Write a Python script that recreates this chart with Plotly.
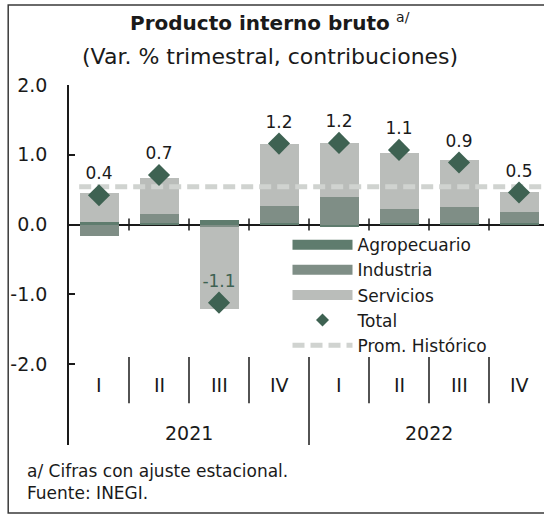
import plotly.graph_objects as go

# ---- data ----
quarters = ["I", "II", "III", "IV", "I", "II", "III", "IV"]
years = ["2021", "2022"]
agropecuario = [0.04, 0.02, 0.06, 0.02, -0.04, 0.02, 0.02, 0.02]
industria = [-0.16, 0.13, -0.03, 0.25, 0.39, 0.20, 0.23, 0.16]
servicios = [0.41, 0.52, -1.18, 0.89, 0.78, 0.81, 0.68, 0.28]
total = [0.42, 0.71, -1.12, 1.16, 1.17, 1.07, 0.89, 0.46]
prom_historico = 0.54
y_ticks = [-2, -1, 0, 1, 2]
y_tick_labels = ["-2.0", "-1.0", "0.0", "1.0", "2.0"]

# ---- styles ----
C_AGRO = "#5f7c6e"
C_IND = "#7f8e86"
C_SERV = "#babdba"
C_TOTAL = "#3e6252"
C_PROM = "#d0d3d0"
FONT = "DejaVu Sans"
TXT = "#1a1a1a"

xs = list(range(len(quarters)))
fig = go.Figure()

series = [("Agropecuario", agropecuario, C_AGRO),
          ("Industria", industria, C_IND),
          ("Servicios", servicios, C_SERV)]
for name, vals, col in series:
    fig.add_trace(go.Bar(x=xs, y=vals, name=name, marker=dict(color=col, line=dict(width=0)),
                         width=0.65, showlegend=False, legendgroup=name))

# legend swatches (wide rectangles as in the original)
for rank, (name, _, col) in enumerate(series, start=1):
    fig.add_trace(go.Scatter(x=[None], y=[None], mode="lines", name=name, legendgroup=name,
                             legendrank=rank, line=dict(color=col, width=10)))

fig.add_trace(go.Scatter(x=[xs[0] - 0.33, xs[-1] + 0.6], y=[prom_historico] * 2, mode="lines",
                         name="Prom. Histórico", legendrank=5,
                         line=dict(color=C_PROM, width=5, dash="12px,6px")))

labels = [f"{v:.1f}" for v in total]
label_colors = [C_TOTAL if v < 0 else TXT for v in total]
fig.add_trace(go.Scatter(x=xs, y=total, mode="markers+text", name="Total", legendgroup="Total",
                         showlegend=False,
                         marker=dict(symbol="diamond", size=17, color=C_TOTAL),
                         text=labels, textposition="top center",
                         textfont=dict(size=17, color=label_colors, family=FONT)))
fig.add_trace(go.Scatter(x=[None], y=[None], mode="markers", name="Total", legendgroup="Total",
                         legendrank=4, marker=dict(symbol="diamond", size=10, color=C_TOTAL)))

Y_MIN, Y_MAX = -3.16, 2.0
shapes = []
for i in range(len(xs) - 1):
    b = i + 0.5
    shapes.append(dict(type="line", xref="x", yref="y", x0=b, x1=b, y0=-0.085, y1=0.085,
                       line=dict(color=TXT, width=1.5)))
    long = (i == 3)
    shapes.append(dict(type="line", xref="x", yref="y", x0=b, x1=b, y0=-1.90,
                       y1=Y_MIN if long else -2.56, line=dict(color=TXT, width=1.5)))
shapes.append(dict(type="rect", xref="paper", yref="paper", x0=-0.128, x1=1.05, y0=-0.189, y1=1.222,
                   line=dict(color="#3a3a3a", width=1.5)))

annotations = []
for i, q in enumerate(quarters):
    annotations.append(dict(x=i, y=-2.30, xref="x", yref="y", text=q, showarrow=False,
                            yanchor="middle", font=dict(size=19, family=FONT, color=TXT)))
for j, yr in enumerate(years):
    annotations.append(dict(x=j * 4 + 1.5, y=-2.99, xref="x", yref="y", text=yr, showarrow=False,
                            yanchor="middle", font=dict(size=19, family=FONT, color=TXT)))
annotations += [
    dict(x=0.423, y=1.175, xref="paper", yref="paper", showarrow=False,
         xanchor="center", yanchor="middle",
         text="<b>Producto interno bruto</b> <sup>a/</sup>",
         font=dict(size=20, family=FONT, color=TXT)),
    dict(x=0.423, y=1.078, xref="paper", yref="paper", showarrow=False,
         xanchor="center", yanchor="middle",
         text="(Var. % trimestral, contribuciones)",
         font=dict(size=22, family=FONT, color=TXT)),
    dict(x=-0.0926, y=-0.072, xref="paper", yref="paper", showarrow=False,
         xanchor="left", yanchor="middle",
         text="a/ Cifras con ajuste estacional.", font=dict(size=17, family=FONT, color=TXT)),
    dict(x=-0.0926, y=-0.133, xref="paper", yref="paper", showarrow=False,
         xanchor="left", yanchor="middle",
         text="Fuente: INEGI.", font=dict(size=17, family=FONT, color=TXT)),
]

fig.update_layout(
    width=544, height=516,
    margin=dict(l=69, r=0, t=85, b=71, pad=0),
    paper_bgcolor="white", plot_bgcolor="white",
    barmode="relative", bargap=0,
    font=dict(family=FONT, color=TXT),
    xaxis=dict(range=[-0.5, -0.5 + 475 / 60], visible=False, fixedrange=True),
    yaxis=dict(range=[Y_MIN, Y_MAX], tickvals=y_ticks, ticktext=y_tick_labels,
               ticks="inside", ticklen=6, tickcolor=TXT, tickwidth=1.5,
               showline=True, linecolor=TXT, linewidth=1.5, showgrid=False,
               zeroline=True, zerolinecolor=TXT, zerolinewidth=1.5,
               tickfont=dict(size=19, family=FONT, color=TXT), ticklabelstandoff=16),
    legend=dict(x=0.46, y=0.605, xanchor="left", yanchor="top", bgcolor="rgba(0,0,0,0)",
                font=dict(size=17, family=FONT, color=TXT), tracegroupgap=0,
                itemwidth=60, traceorder="normal"),
    shapes=shapes, annotations=annotations,
)

fig.write_html("out.html", config={"displayModeBar": False},
               post_script="document.body.style.margin='0';")
